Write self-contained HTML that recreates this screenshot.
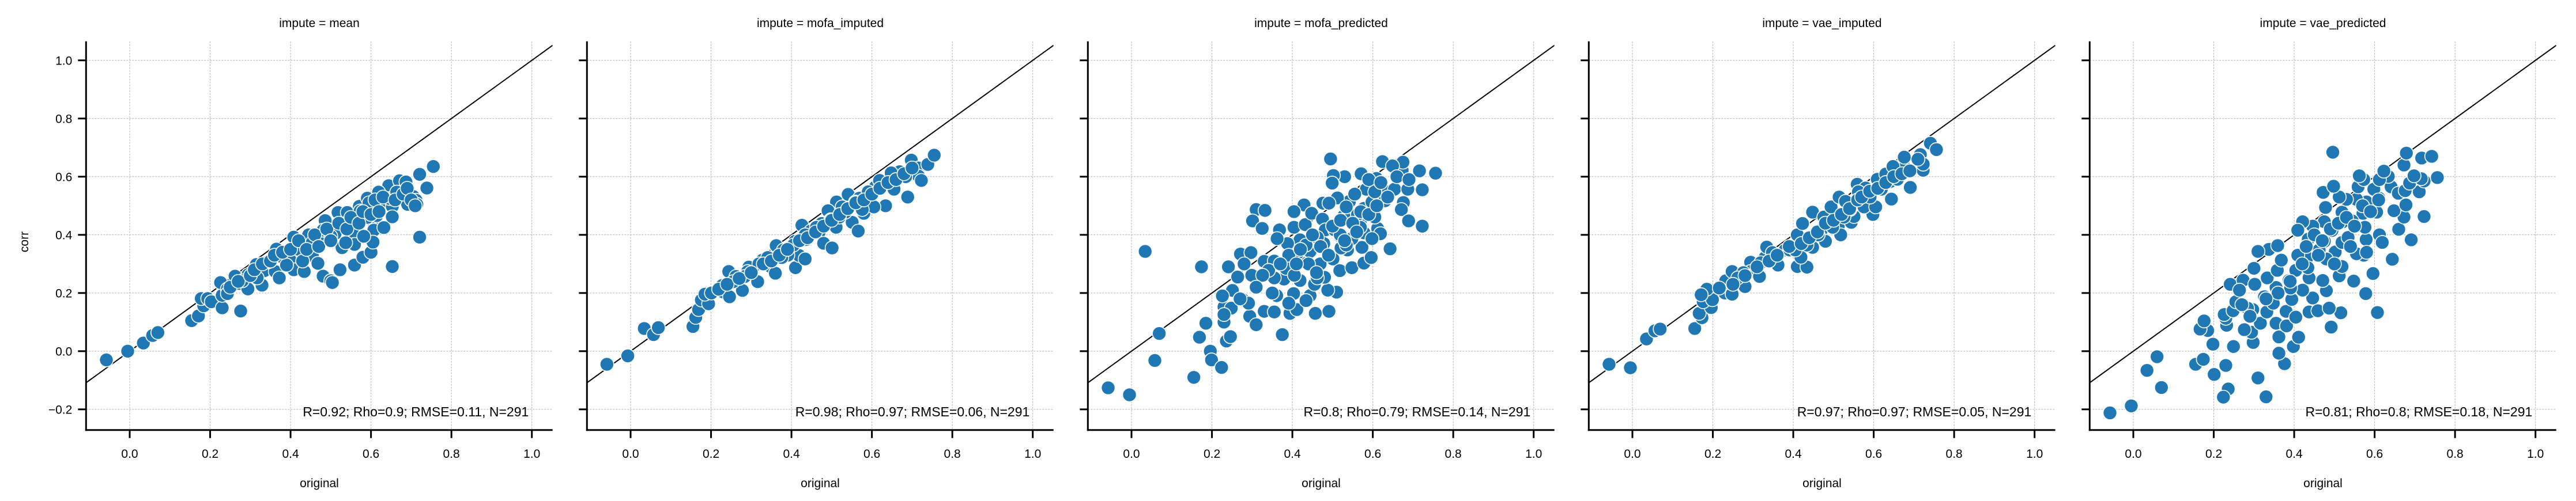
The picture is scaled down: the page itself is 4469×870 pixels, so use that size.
<!DOCTYPE html>
<html><head><meta charset="utf-8"><style>
html,body{margin:0;padding:0;background:#fff}
svg{display:block}
text{font-family:"Liberation Sans",Arial,sans-serif;fill:#000}
</style></head><body>
<svg id="fig" width="4469" height="870" viewBox="0 0 4469 870" xmlns="http://www.w3.org/2000/svg"></svg>
<script>
const panelTitles = ["impute = mean","impute = mofa_imputed","impute = mofa_predicted","impute = vae_imputed","impute = vae_predicted"];
const panelKeys = ["mean","mofa-imputed","mofa-predicted","vae-imputed","vae-predicted"];
const statLabels = ["R=0.92; Rho=0.9; RMSE=0.11, N=291","R=0.98; Rho=0.97; RMSE=0.06, N=291","R=0.8; Rho=0.79; RMSE=0.14, N=291","R=0.97; Rho=0.97; RMSE=0.05, N=291","R=0.81; Rho=0.8; RMSE=0.18, N=291"];
const xTicks = [0.0,0.2,0.4,0.6,0.8,1.0];
const xTickLabels = ["0.0","0.2","0.4","0.6","0.8","1.0"];
const yTicks = [-0.2,0.0,0.2,0.4,0.6,0.8,1.0];
const yTickLabels = ["\u22120.2","0.0","0.2","0.4","0.6","0.8","1.0"];

const meanX=[-0.058,-0.005,0.034,0.057,0.07,0.154,0.171,0.184,0.178,0.194,0.203,0.23,0.23,0.226,0.276,0.243,0.271,0.262,0.294,0.294,0.315,0.329,0.335,0.362,0.372,0.365,0.379,0.399,0.408,0.408,0.436,0.436,0.434,0.445,0.454,0.468,0.472,0.486,0.481,0.5,0.504,0.511,0.523,0.528,0.518,0.541,0.53,0.555,0.559,0.559,0.568,0.571,0.58,0.591,0.595,0.6,0.604,0.607,0.605,0.614,0.623,0.632,0.641,0.644,0.653,0.653,0.653,0.671,0.671,0.678,0.687,0.691,0.705,0.712,0.714,0.721,0.721,0.739,0.755,0.317,0.344,0.39,0.418,0.454,0.481,0.5,0.546,0.573,0.591,0.619,0.646,0.664,0.582,0.537,0.243,0.28,
0.25,0.27,0.3,0.31,0.33,0.35,0.36,0.38,0.4,0.42,0.43,0.44,0.46,0.47,0.49,0.5,0.52,0.54,0.55,0.57,0.58,0.6,0.61,0.62,0.63,0.66,0.68,0.69,0.7,0.71];
const meanY=[-0.03,0,0.028,0.054,0.064,0.105,0.121,0.156,0.181,0.181,0.17,0.149,0.192,0.236,0.138,0.214,0.233,0.258,0.214,0.263,0.298,0.227,0.277,0.274,0.252,0.351,0.324,0.313,0.28,0.392,0.362,0.334,0.274,0.4,0.329,0.302,0.373,0.449,0.258,0.242,0.236,0.405,0.28,0.356,0.477,0.477,0.438,0.405,0.367,0.296,0.449,0.498,0.323,0.526,0.51,0.34,0.449,0.416,0.375,0.466,0.5,0.425,0.542,0.569,0.498,0.291,0.462,0.557,0.586,0.537,0.582,0.505,0.532,0.519,0.505,0.608,0.392,0.561,0.635,0.252,0.307,0.296,0.351,0.373,0.416,0.395,0.438,0.482,0.46,0.547,0.525,0.547,0.395,0.373,0.198,0.242,
0.22,0.24,0.26,0.28,0.3,0.31,0.33,0.34,0.35,0.38,0.31,0.35,0.4,0.36,0.42,0.38,0.44,0.42,0.46,0.44,0.48,0.47,0.52,0.48,0.53,0.52,0.54,0.56,0.52,0.5];

const mofaImpX=[-0.059,-0.007,0.034,0.057,0.069,0.155,0.162,0.169,0.176,0.194,0.185,0.201,0.23,0.246,0.228,0.244,0.262,0.269,0.278,0.294,0.316,0.328,0.348,0.36,0.362,0.38,0.41,0.419,0.434,0.409,0.437,0.426,0.448,0.469,0.475,0.48,0.501,0.511,0.512,0.491,0.526,0.541,0.551,0.566,0.569,0.58,0.598,0.609,0.634,0.641,0.655,0.669,0.689,0.698,0.716,0.716,0.723,0.739,0.755,0.648,0.619,0.591,0.559,0.534,0.519,0.498,0.462,0.434,0.405,0.391,0.376,0.341,0.319,0.291,0.284,0.255,0.219,0.684,0.605,0.576,
0.24,0.27,0.3,0.33,0.35,0.37,0.39,0.42,0.44,0.46,0.48,0.5,0.52,0.54,0.56,0.58,0.6,0.62,0.64,0.66,0.68,0.7];
const mofaImpY=[-0.045,-0.016,0.078,0.057,0.081,0.085,0.116,0.143,0.176,0.163,0.196,0.2,0.204,0.187,0.226,0.274,0.257,0.237,0.209,0.289,0.239,0.313,0.291,0.268,0.363,0.348,0.287,0.329,0.317,0.378,0.384,0.433,0.413,0.409,0.439,0.371,0.355,0.426,0.513,0.483,0.496,0.539,0.443,0.413,0.526,0.474,0.53,0.565,0.5,0.576,0.557,0.617,0.53,0.657,0.63,0.602,0.587,0.642,0.674,0.613,0.587,0.548,0.513,0.478,0.461,0.452,0.426,0.4,0.365,0.33,0.322,0.322,0.3,0.274,0.257,0.239,0.213,0.6,0.496,0.487,
0.23,0.25,0.27,0.3,0.31,0.33,0.35,0.38,0.39,0.41,0.43,0.45,0.47,0.49,0.51,0.52,0.54,0.56,0.58,0.59,0.61,0.63];

const mofaPredX=[-0.058,-0.005,0.034,0.069,0.058,0.155,0.174,0.185,0.169,0.196,0.199,0.224,0.236,0.246,0.23,0.23,0.251,0.226,0.241,0.264,0.271,0.297,0.31,0.332,0.301,0.325,0.299,0.276,0.294,0.31,0.33,0.361,0.375,0.394,0.403,0.411,0.444,0.457,0.491,0.51,0.488,0.48,0.455,0.419,0.379,0.355,0.33,0.355,0.384,0.411,0.437,0.469,0.501,0.518,0.548,0.578,0.596,0.643,0.573,0.537,0.521,0.478,0.444,0.419,0.388,0.368,0.362,0.404,0.432,0.429,0.404,0.448,0.475,0.482,0.518,0.548,0.578,0.612,0.619,0.605,0.569,0.528,0.512,0.542,0.578,0.598,0.63,0.639,0.676,0.671,0.689,0.723,0.723,0.756,0.716,0.673,0.675,0.624,0.649,0.609,0.571,0.53,0.502,0.499,0.495,0.584,0.654,0.687,0.555,0.512,0.476,0.491,0.637,0.562,0.505,0.519,0.534,0.462,0.434,0.391,0.341,0.326,0.291,0.248,0.23,0.391,0.355,0.434,0.462,0.405,0.598,0.569,0.605,0.534,
0.42,0.45,0.47,0.5,0.52,0.55,0.57,0.59,0.61,0.44,0.46,0.49,0.53,0.56,0.41,0.37,0.35,0.31,0.28,0.27,0.59,0.62,0.66,0.69];
const mofaPredY=[-0.126,-0.15,0.343,0.061,-0.032,-0.09,0.29,0.096,0.048,0,-0.03,-0.056,0.035,0.05,0.1,0.152,0.209,0.19,0.29,0.255,0.334,0.339,0.487,0.484,0.448,0.422,0.261,0.178,0.12,0.091,0.137,0.191,0.057,0.13,0.198,0.143,0.191,0.13,0.137,0.203,0.21,0.254,0.23,0.243,0.248,0.252,0.309,0.31,0.285,0.322,0.304,0.3,0.317,0.277,0.287,0.303,0.322,0.352,0.357,0.348,0.355,0.37,0.343,0.383,0.37,0.417,0.387,0.426,0.435,0.503,0.48,0.474,0.454,0.417,0.396,0.387,0.407,0.422,0.404,0.461,0.448,0.465,0.526,0.515,0.491,0.513,0.517,0.548,0.511,0.487,0.448,0.43,0.555,0.612,0.62,0.622,0.65,0.652,0.637,0.594,0.61,0.6,0.604,0.578,0.661,0.557,0.557,0.557,0.54,0.527,0.509,0.509,0.53,0.47,0.417,0.4,0.365,0.391,0.365,0.33,0.278,0.261,0.165,0.148,0.126,0.165,0.135,0.174,0.252,0.261,0.387,0.426,0.548,0.496,
0.35,0.4,0.36,0.43,0.45,0.44,0.48,0.47,0.5,0.3,0.27,0.33,0.38,0.41,0.3,0.3,0.2,0.22,0.3,0.18,0.59,0.58,0.6,0.59];

const vaeImpX=[-0.058,-0.005,0.035,0.056,0.069,0.155,0.173,0.166,0.196,0.176,0.199,0.185,0.171,0.23,0.248,0.232,0.248,0.271,0.28,0.294,0.294,0.316,0.33,0.334,0.362,0.38,0.391,0.41,0.434,0.419,0.41,0.437,0.448,0.423,0.448,0.471,0.48,0.476,0.512,0.518,0.494,0.514,0.53,0.544,0.551,0.559,0.58,0.598,0.576,0.605,0.609,0.63,0.641,0.644,0.659,0.673,0.676,0.691,0.716,0.723,0.723,0.741,0.756,0.648,0.619,0.591,0.562,0.541,0.526,0.498,0.462,0.434,0.405,0.348,0.319,0.276,0.262,0.216,
0.25,0.28,0.31,0.34,0.36,0.39,0.42,0.44,0.46,0.48,0.5,0.52,0.54,0.56,0.57,0.59,0.61,0.63,0.65,0.67,0.69,0.71];
const vaeImpY=[-0.045,-0.057,0.042,0.07,0.076,0.078,0.115,0.13,0.15,0.17,0.177,0.213,0.194,0.2,0.196,0.242,0.274,0.242,0.222,0.306,0.274,0.257,0.322,0.358,0.296,0.348,0.348,0.291,0.289,0.323,0.4,0.383,0.357,0.439,0.478,0.419,0.378,0.461,0.43,0.4,0.496,0.53,0.515,0.443,0.463,0.574,0.561,0.47,0.496,0.496,0.591,0.609,0.583,0.523,0.591,0.643,0.667,0.563,0.676,0.622,0.643,0.715,0.693,0.635,0.557,0.53,0.548,0.487,0.461,0.426,0.4,0.365,0.348,0.339,0.304,0.27,0.252,0.217,
0.23,0.26,0.29,0.31,0.33,0.36,0.37,0.39,0.41,0.44,0.45,0.47,0.49,0.52,0.53,0.55,0.56,0.58,0.6,0.61,0.62,0.66];

const vaePredX=[-0.058,-0.005,0.034,0.059,0.07,0.155,0.174,0.201,0.23,0.236,0.224,0.31,0.33,0.376,0.362,0.398,0.411,0.362,0.298,0.294,0.276,0.249,0.198,0.185,0.166,0.176,0.232,0.23,0.226,0.248,0.255,0.241,0.273,0.302,0.3,0.264,0.297,0.316,0.326,0.332,0.355,0.381,0.38,0.404,0.394,0.437,0.459,0.492,0.516,0.487,0.446,0.48,0.421,0.355,0.333,0.358,0.387,0.437,0.471,0.512,0.548,0.578,0.607,0.596,0.644,0.573,0.555,0.502,0.519,0.48,0.432,0.409,0.368,0.337,0.31,0.359,0.404,0.435,0.475,0.519,0.579,0.612,0.619,0.66,0.691,0.723,0.673,0.648,0.678,0.605,0.571,0.544,0.521,0.494,0.475,0.446,0.421,0.409,0.478,0.519,0.58,0.611,0.555,0.53,0.512,0.472,0.498,0.559,0.598,0.641,0.659,0.676,0.711,0.723,0.687,0.716,0.756,0.698,0.634,0.612,0.573,0.562,0.623,0.673,0.679,0.717,0.742,0.496,0.576,0.534,0.462,0.434,0.391,0.348,0.284,
0.43,0.45,0.47,0.49,0.51,0.53,0.55,0.57,0.59,0.61,0.42,0.46,0.5,0.54,0.58,0.39,0.36,0.33,0.29,0.27];
const vaePredY=[-0.212,-0.188,-0.066,-0.019,-0.125,-0.045,-0.028,-0.08,-0.049,-0.13,-0.158,-0.092,-0.157,-0.043,-0.007,0.016,0.048,0.049,0.03,0.065,0.074,0.016,0.024,0.071,0.076,0.104,0.089,0.113,0.126,0.139,0.17,0.23,0.244,0.23,0.285,0.21,0.143,0.096,0.187,0.135,0.096,0.087,0.137,0.117,0.178,0.135,0.139,0.083,0.132,0.148,0.183,0.208,0.21,0.219,0.252,0.278,0.243,0.252,0.243,0.259,0.241,0.198,0.133,0.267,0.316,0.33,0.335,0.341,0.291,0.317,0.322,0.33,0.313,0.35,0.343,0.363,0.278,0.385,0.378,0.374,0.384,0.4,0.374,0.419,0.383,0.463,0.461,0.483,0.503,0.478,0.474,0.448,0.445,0.415,0.445,0.43,0.445,0.416,0.494,0.478,0.513,0.526,0.522,0.522,0.53,0.546,0.567,0.565,0.557,0.565,0.543,0.552,0.548,0.585,0.578,0.593,0.597,0.603,0.601,0.59,0.59,0.603,0.619,0.64,0.681,0.664,0.67,0.684,0.426,0.391,0.348,0.287,0.217,0.165,0.148,
0.36,0.4,0.38,0.42,0.44,0.46,0.43,0.5,0.48,0.52,0.3,0.33,0.3,0.36,0.34,0.24,0.2,0.18,0.12,0.16];

const seriesX=[meanX,mofaImpX,mofaPredX,vaeImpX,vaePredX];
const seriesY=[meanY,mofaImpY,mofaPredY,vaeImpY,vaePredY];

const NS="http://www.w3.org/2000/svg";
const svg=document.getElementById('fig');
const XMIN=-0.1085, XMAX=1.0516, YMIN=-0.271, YMAX=1.0655;
const PW=809.4, TOP=71.7, BOT=746.7;
function panelLeft(k){return 149.3+869*k;}
function xScale(k,v){return panelLeft(k)+(v-XMIN)/(XMAX-XMIN)*PW;}
function yScale(v){return BOT-(v-YMIN)/(YMAX-YMIN)*(BOT-TOP);}
function mk(tag,attrs,parent){const e=document.createElementNS(NS,tag);for(const a in attrs)e.setAttribute(a,attrs[a]);(parent||svg).appendChild(e);return e;}

for(let k=0;k<5;k++){
  const g=mk('g',{});
  
  
  const L=panelLeft(k), R=L+PW;
  const cp=mk('clipPath',{id:'clip'+k},g);
  mk('rect',{x:L,y:TOP,width:PW,height:BOT-TOP},cp);
  xTicks.forEach((t,i)=>{
    const gl=mk('line',{x1:xScale(k,t),x2:xScale(k,t),y1:TOP,y2:BOT,stroke:'#b0b0b0','stroke-width':1,'stroke-dasharray':'3,2'},g);
    
    
  });
  yTicks.forEach((t,i)=>{
    const gl=mk('line',{x1:L,x2:R,y1:yScale(t),y2:yScale(t),stroke:'#b0b0b0','stroke-width':1,'stroke-dasharray':'3,2'},g);
    
    
  });
  const lo=Math.max(XMIN,YMIN), hi=Math.min(XMAX,YMAX);
  const id=mk('line',{x1:xScale(k,lo),y1:yScale(lo),x2:xScale(k,hi),y2:yScale(hi),stroke:'#000','stroke-width':2,'clip-path':'url(#clip'+k+')'},g);
  
  
  const pg=mk('g',{'clip-path':'url(#clip'+k+')'},g);
  
  
  const xs=seriesX[k], ys=seriesY[k];
  for(let i=0;i<xs.length;i++){
    const c=mk('circle',{cx:xScale(k,xs[i]),cy:yScale(ys[i]),r:12,fill:'#1f77b4',stroke:'#fff','stroke-width':1.6},pg);
    
    
  }
  const sl=mk('line',{x1:L,x2:L,y1:TOP,y2:BOT+1.5,stroke:'#000','stroke-width':3},g);
  
  
  const sb=mk('line',{x1:L-1.5,x2:R,y1:BOT,y2:BOT,stroke:'#000','stroke-width':3},g);
  
  
  xTicks.forEach((t,i)=>{
    const tk=mk('line',{x1:xScale(k,t),x2:xScale(k,t),y1:BOT,y2:BOT+14,stroke:'#000','stroke-width':3},g);
    
    
    const tl=mk('text',{x:xScale(k,t),y:795,'font-size':21,'text-anchor':'middle'},g);
    tl.textContent=xTickLabels[i];
    
    
  });
  yTicks.forEach((t,i)=>{
    const tk=mk('line',{x1:L-14,x2:L,y1:yScale(t),y2:yScale(t),stroke:'#000','stroke-width':3},g);
    
    
    if(k===0){
      const tl=mk('text',{x:L-24,y:yScale(t)+7.5,'font-size':21,'text-anchor':'end'},g);
      tl.textContent=yTickLabels[i];
      
      
    }
  });
  const title=mk('text',{x:L+PW/2,y:47,'font-size':21,'text-anchor':'middle'},g);
  title.textContent=panelTitles[k];
  
  
  const xl=mk('text',{x:L+PW/2,y:846,'font-size':21,'text-anchor':'middle'},g);
  xl.textContent='original';
  
  
  const st=mk('text',{x:L+768,y:723,'font-size':23,'text-anchor':'end'},g);
  st.textContent=statLabels[k];
  
  
}
const yl=mk('text',{x:0,y:0,'font-size':21,'text-anchor':'middle',transform:'translate(49,420) rotate(-90)'});
yl.textContent='corr';


</script>
</body></html>
